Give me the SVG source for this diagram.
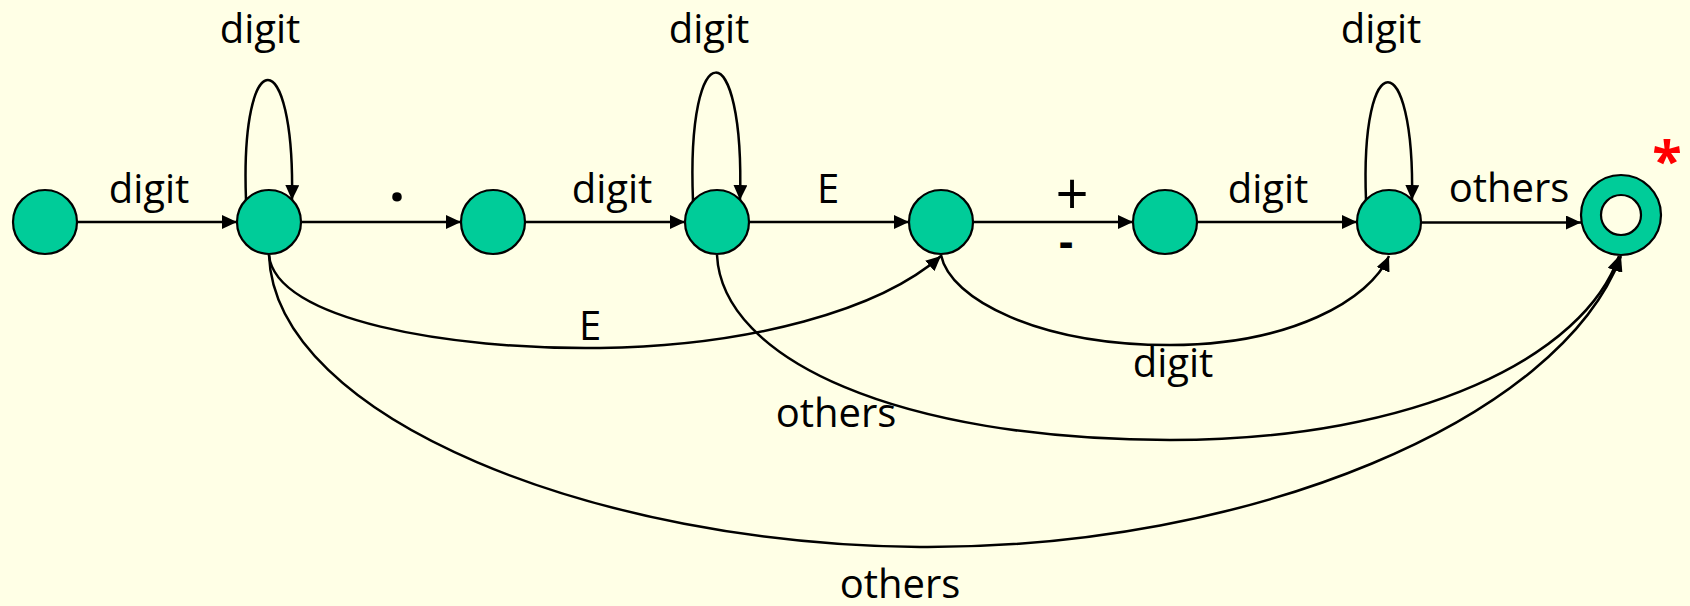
<svg xmlns="http://www.w3.org/2000/svg" width="1690" height="606" viewBox="0 0 1690 606">
<style>
.node{fill:#00CC99;stroke:#000;stroke-width:2.2}
.hole{fill:#FFFFE6;stroke:#000;stroke-width:2.2}
.edge{fill:none;stroke:#000;stroke-width:2.5;marker-end:url(#arr)}
.lbl{font-family:"Open Sans","Liberation Sans",sans-serif;font-size:40px;fill:#000;text-anchor:middle}
</style>
<defs>
<marker id="arr" markerUnits="userSpaceOnUse" markerWidth="16" markerHeight="14" refX="15" refY="7" orient="auto">
<path d="M0,0 L15,7 L0,14 z" fill="#000"/>
</marker>
</defs>
<rect x="0" y="0" width="1690" height="606" fill="#FFFFE6"/>
<g id="connectors">
<path class="edge" d="M77,222 L237,222"/>
<path class="edge" d="M301,222 L461,222"/>
<path class="edge" d="M525,222 L685,222"/>
<path class="edge" d="M749,222 L909,222"/>
<path class="edge" d="M973,222 L1133,222"/>
<path class="edge" d="M1197,222 L1357,222"/>
<path class="edge" d="M1421,222.5 L1581,222.5"/>
<path class="edge" d="M246,200 C240,40 295,40 292,200"/>
<path class="edge" d="M693,201 C686,30 745,30 740,200"/>
<path class="edge" d="M1366,200 C1360,43 1415,43 1412,200"/>
<path class="edge" d="M269,255 C275,320 450,350 600,348 C750,346 880,310 941,256"/>
<path class="edge" d="M941,255 C950,300 1040,345 1170,345 C1290,345 1370,300 1389,256"/>
<path class="edge" d="M717,255 C722,360 900,440 1170,440 C1420,440 1585,355 1619,256"/>
<path class="edge" d="M269,255 C275,420 600,545 920,547 C1250,549 1560,420 1621,256"/>
</g>
<g id="n1"><circle class="node" cx="45" cy="222" r="32"/></g>
<g id="n2"><circle class="node" cx="269" cy="222" r="32"/></g>
<g id="n3"><circle class="node" cx="493" cy="222" r="32"/></g>
<g id="n4"><circle class="node" cx="717" cy="222" r="32"/></g>
<g id="n5"><circle class="node" cx="941" cy="222" r="32"/></g>
<g id="n6"><circle class="node" cx="1165" cy="222" r="32"/></g>
<g id="n7"><circle class="node" cx="1389" cy="222" r="32"/></g>
<g id="final"><circle class="node" cx="1621" cy="215" r="40"/><circle class="hole" cx="1621" cy="215" r="20"/></g>
<g id="labels">
<text class="lbl" x="149" y="203">digit</text>
<text class="lbl" x="260" y="43">digit</text>
<text class="lbl" x="397" y="201" style="font-size:56px;font-weight:bold">.</text>
<text class="lbl" x="612" y="203">digit</text>
<text class="lbl" x="709" y="43">digit</text>
<text class="lbl" x="828" y="203">E</text>
<text class="lbl" x="1072" y="215" style="font-size:58px">+</text>
<text class="lbl" x="1066" y="257" style="font-size:44px;font-weight:bold">-</text>
<text class="lbl" x="1268" y="203">digit</text>
<text class="lbl" x="1381" y="43">digit</text>
<text class="lbl" x="1509" y="202">others</text>
<text class="lbl" x="590" y="340">E</text>
<text class="lbl" x="1173" y="377">digit</text>
<text class="lbl" x="836" y="427">others</text>
<text class="lbl" x="900" y="598">others</text>
<text x="1667" y="180" style="font-family:'Open Sans','Liberation Sans',sans-serif;font-size:54px;font-weight:bold;fill:#FF0000;text-anchor:middle">*</text>
</g>
</svg>
